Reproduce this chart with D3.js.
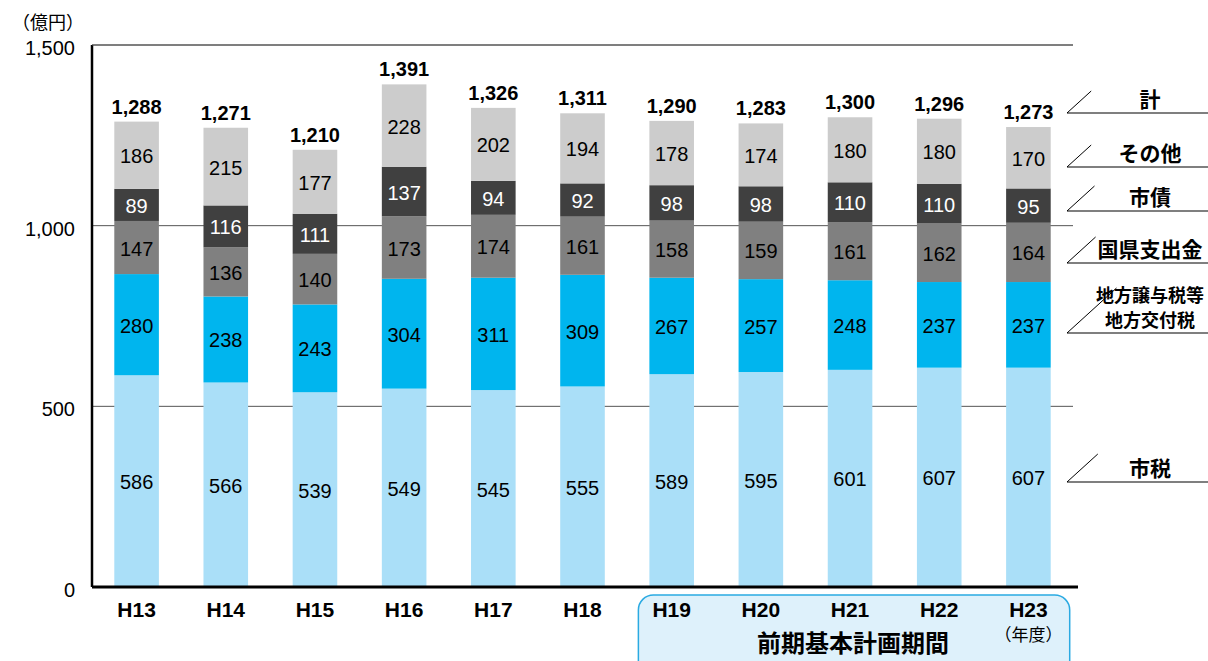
<!DOCTYPE html>
<html>
<head>
<meta charset="utf-8">
<script src="https://cdn.jsdelivr.net/npm/d3@7.9.0/dist/d3.min.js"></script>
<style>
body { margin: 0; background: #fff; }
svg { font-family: "Liberation Sans", Arial, "Noto Sans CJK JP", sans-serif; }
.jp { font-family: "Noto Sans CJK JP", sans-serif; }
</style>
</head>
<body>
<svg id="chart" width="1208" height="661"></svg>
<script>
const years = ['H13', 'H14', 'H15', 'H16', 'H17', 'H18', 'H19', 'H20', 'H21', 'H22', 'H23'];
const shizei = [586, 566, 539, 549, 545, 555, 589, 595, 601, 607, 607];
const chihou = [280, 238, 243, 304, 311, 309, 267, 257, 248, 237, 237];
const kokken = [147, 136, 140, 173, 174, 161, 158, 159, 161, 162, 164];
const shisai = [89, 116, 111, 137, 94, 92, 98, 98, 110, 110, 95];
const sonota = [186, 215, 177, 228, 202, 194, 178, 174, 180, 180, 170];
const totals = [1288, 1271, 1210, 1391, 1326, 1311, 1290, 1283, 1300, 1296, 1273];
const yTicks = [0, 500, 1000, 1500];

const series = [
    { key: 'shizei', values: shizei, color: '#aadff8', text: '#000' },
    { key: 'chihou', values: chihou, color: '#00b5ee', text: '#000' },
    { key: 'kokken', values: kokken, color: '#808080', text: '#000' },
    { key: 'shisai', values: shisai, color: '#404040', text: '#fff' },
    { key: 'sonota', values: sonota, color: '#cccccc', text: '#000' },
];

// legend labels, bottom to top plus 計 (y = underline, rise = slash height)
const legend = [
    { lines: ['市税'], y: 482, rise: 28, size: 21 },
    { lines: ['地方譲与税等', '地方交付税'], y: 333, rise: 45, size: 18 },
    { lines: ['国県支出金'], y: 263, rise: 26, size: 21 },
    { lines: ['市債'], y: 211, rise: 25, size: 21 },
    { lines: ['その他'], y: 167, rise: 22, size: 21 },
    { lines: ['計'], y: 113, rise: 22, size: 21 },
];

const svg = d3.select('#chart');
const plotLeft = 92, plotRight = 1073, plotTop = 45, plotBottom = 587;

let x = d3.scaleBand().domain(years).range([plotLeft, plotRight])
    .paddingInner(0.5).paddingOuter(0.25);
let y = d3.scaleLinear().domain([0, 1500]).range([plotBottom, plotTop]);

// highlight box for 前期基本計画期間
let boxX0 = x('H19') - 11, boxX1 = x('H23') + x.bandwidth() + 19;
svg.append('rect')
    .attr('x', boxX0).attr('y', 595)
    .attr('width', boxX1 - boxX0).attr('height', 80)
    .attr('rx', 15)
    .attr('fill', '#def1fb')
    .attr('stroke', '#2aaae2')
    .attr('stroke-width', 1.5);

// gridlines
svg.append('g')
    .selectAll('line')
    .data(yTicks.filter(d => d > 0))
    .join('line')
    .attr('x1', plotLeft).attr('x2', plotRight)
    .attr('y1', d => y(d)).attr('y2', d => y(d))
    .attr('stroke', '#555').attr('stroke-width', 1);

// stacked bars
let stackData = years.map((yr, i) => {
    let row = { year: yr };
    series.forEach(s => row[s.key] = s.values[i]);
    return row;
});
let stacked = d3.stack().keys(series.map(s => s.key))(stackData);

stacked.forEach((layer, li) => {
    let s = series[li];
    let g = svg.append('g');
    g.selectAll('rect')
        .data(layer)
        .join('rect')
        .attr('x', d => x(d.data.year))
        .attr('y', d => y(d[1]))
        .attr('width', x.bandwidth())
        .attr('height', d => y(d[0]) - y(d[1]))
        .attr('fill', s.color);
    g.selectAll('text')
        .data(layer)
        .join('text')
        .attr('x', d => x(d.data.year) + x.bandwidth() / 2)
        .attr('y', d => (y(d[0]) + y(d[1])) / 2 + 8)
        .attr('text-anchor', 'middle')
        .attr('font-size', 20)
        .attr('fill', s.text)
        .text(d => d.data[s.key]);
});

// totals
svg.append('g')
    .selectAll('text')
    .data(years)
    .join('text')
    .attr('x', d => x(d) + x.bandwidth() / 2)
    .attr('y', (d, i) => y(totals[i]) - 8)
    .attr('text-anchor', 'middle')
    .attr('font-size', 20)
    .attr('font-weight', 'bold')
    .text((d, i) => d3.format(',')(totals[i]));

// axes lines
svg.append('line')
    .attr('x1', plotLeft).attr('x2', plotLeft)
    .attr('y1', plotTop).attr('y2', plotBottom)
    .attr('stroke', '#000').attr('stroke-width', 2.5);
svg.append('line')
    .attr('x1', plotLeft).attr('x2', plotRight + 5)
    .attr('y1', plotBottom).attr('y2', plotBottom)
    .attr('stroke', '#000').attr('stroke-width', 3);
svg.append('line')
    .attr('x1', plotLeft).attr('x2', plotRight)
    .attr('y1', plotTop).attr('y2', plotTop)
    .attr('stroke', '#555').attr('stroke-width', 1);

// y tick labels
svg.append('g')
    .selectAll('text')
    .data(yTicks)
    .join('text')
    .attr('x', 75)
    .attr('y', d => y(d) + 10)
    .attr('text-anchor', 'end')
    .attr('font-size', 20)
    .text(d => d3.format(',')(d));

svg.append('text')
    .attr('class', 'jp')
    .attr('x', 12).attr('y', 29)
    .attr('font-size', 18)
    .text('（億円）');

// x labels
svg.append('g')
    .selectAll('text')
    .data(years)
    .join('text')
    .attr('x', d => x(d) + x.bandwidth() / 2)
    .attr('y', 617)
    .attr('text-anchor', 'middle')
    .attr('font-size', 21)
    .attr('font-weight', 'bold')
    .text(d => d);

svg.append('text')
    .attr('class', 'jp')
    .attr('x', x('H23') + x.bandwidth() / 2)
    .attr('y', 641)
    .attr('text-anchor', 'middle')
    .attr('font-size', 17)
    .text('（年度）');

svg.append('text')
    .attr('class', 'jp')
    .attr('x', 853)
    .attr('y', 652)
    .attr('text-anchor', 'middle')
    .attr('font-size', 24)
    .attr('font-weight', 'bold')
    .text('前期基本計画期間');

// legend
let lg = svg.append('g');
legend.forEach(l => {
    lg.append('line')
        .attr('x1', 1067).attr('x2', 1208)
        .attr('y1', l.y).attr('y2', l.y)
        .attr('stroke', '#000').attr('stroke-width', 1.2);
    lg.append('line')
        .attr('x1', 1067).attr('x2', 1067 + l.rise * 1.1)
        .attr('y1', l.y).attr('y2', l.y - l.rise)
        .attr('stroke', '#000').attr('stroke-width', 1);
    l.lines.forEach((t, i) => {
        lg.append('text')
            .attr('class', 'jp')
            .attr('x', 1150)
            .attr('y', l.y - 6 - (l.lines.length - 1 - i) * 25)
            .attr('text-anchor', 'middle')
            .attr('font-size', l.size)
            .attr('font-weight', 'bold')
            .text(t);
    });
});
</script>
</body>
</html>
